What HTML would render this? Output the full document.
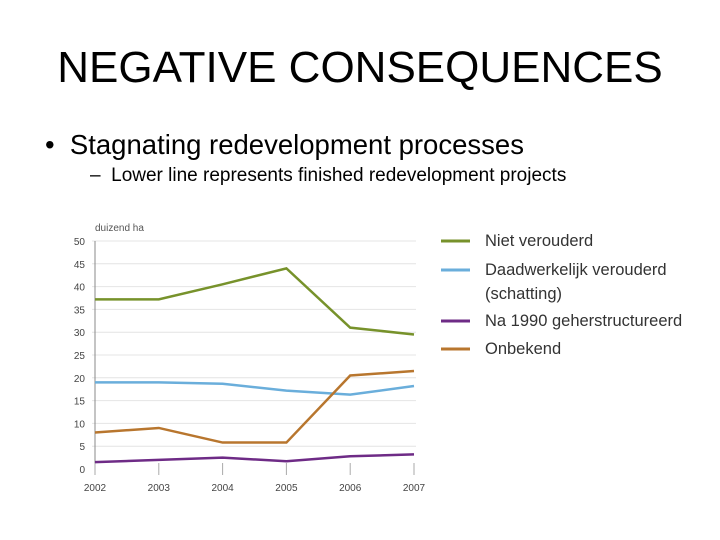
<!DOCTYPE html>
<html><head><meta charset="utf-8"><style>
body{margin:0;width:720px;height:540px;background:#fff;font-family:"Liberation Sans",sans-serif;position:relative;overflow:hidden}
.t{position:absolute;white-space:nowrap;color:#000}
</style></head><body>
<div class="t" style="left:0;width:720px;text-align:center;top:43px;font-size:44px">NEGATIVE CONSEQUENCES</div>
<div class="t" style="left:45px;top:129px;font-size:27.5px">•&nbsp;&nbsp;Stagnating redevelopment processes</div>
<div class="t" style="left:90px;top:165px;font-size:19px">–&nbsp;&nbsp;Lower line represents finished redevelopment projects</div>
<svg id="c" width="720" height="540" style="position:absolute;left:0;top:0" font-family="Liberation Sans, sans-serif"></svg>
<script>
const years=["2002","2003","2004","2005","2006","2007"];
const yTicks=[0,5,10,15,20,25,30,35,40,45,50];
const nietVerouderd=[37.2,37.2,40.5,44,31,29.5];
const daadwerkelijk=[19,19,18.7,17.2,16.3,18.2];
const geherstructureerd=[1.5,2,2.5,1.7,2.8,3.2];
const onbekend=[8,9,5.8,5.8,20.5,21.5];
const seriesNames=["Niet verouderd","Daadwerkelijk verouderd (schatting)","Na 1990 geherstructureerd","Onbekend"];
const colors=["#77922b","#6aaedb","#6e2b86","#b8762e"];
const svg=document.getElementById('c');const NS="http://www.w3.org/2000/svg";
const X=i=>95+i*63.8, Y=v=>469-v*4.56;
function mk(t,a,p){const e=document.createElementNS(NS,t);for(const k in a)e.setAttribute(k,a[k]);(p||svg).appendChild(e);return e;}
yTicks.forEach(v=>{
 if(v>0){const g=mk('line',{x1:92,x2:416,y1:Y(v),y2:Y(v),stroke:'#e4e4e4','stroke-width':1});
 
 }
 const t=mk('text',{x:85,y:Y(v)+4,'text-anchor':'end','font-size':10,fill:'#444'});t.textContent=v;
 
 
});
const ax=mk('line',{x1:95,x2:95,y1:Y(50),y2:Y(0)+6,stroke:'#888'});


years.forEach((y,i)=>{
 mk('line',{x1:X(i),x2:X(i),y1:Y(0)-6,y2:Y(0)+6,stroke:'#aaa'});
 const t=mk('text',{x:X(i),y:491,'text-anchor':'middle','font-size':10,fill:'#444'});t.textContent=y;
 
 
});
const u=mk('text',{x:95,y:231,'font-size':10,fill:'#555'});u.textContent='duizend ha';


[nietVerouderd,daadwerkelijk,geherstructureerd,onbekend].forEach((s,k)=>{
 const p=mk('polyline',{points:s.map((v,i)=>X(i)+','+Y(v)).join(' '),fill:'none',stroke:colors[k],'stroke-width':2.5});
 
 
});
const ly=[241,270,321,349];
seriesNames.forEach((n,k)=>{
 mk('line',{x1:441,x2:470,y1:ly[k],y2:ly[k],stroke:colors[k],'stroke-width':3});
 const t=mk('text',{x:485,y:ly[k]+5,'font-size':16.5,fill:'#333'});
 
 
 if(k==1){t.textContent='Daadwerkelijk verouderd';const t2=mk('text',{x:485,y:ly[k]+29,'font-size':16.5,fill:'#333'});t2.textContent='(schatting)';}
 else t.textContent=n;
});
</script>
</body></html>
